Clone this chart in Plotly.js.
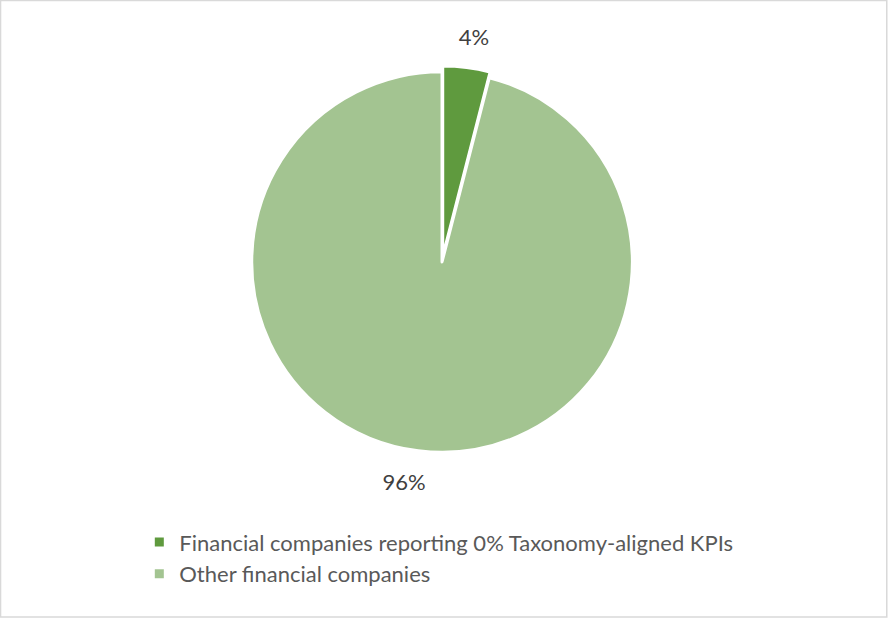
<!DOCTYPE html>
<html>
<head>
<meta charset="utf-8">
<script src="https://cdn.plot.ly/plotly-3.0.1.min.js"></script>
<style>
html,body{margin:0;padding:0;background:#fff;}
#chart{width:889px;height:621px;}
</style>
</head>
<body>
<div id="chart"></div>
<script>
const labels = ["Financial companies reporting 0% Taxonomy-aligned KPIs", "Other financial companies"];
const values = [4, 96];
const textLabels = ["4%", "96%"];
const colors = ["#5f9a3e", "#a3c491"];
const pulls = [0.03, 0];

const fontFamily = "Lato, 'Open Sans', sans-serif";

// main pie (slices + legend)
const pieTrace = {
  type: "pie",
  labels: labels,
  values: values,
  textinfo: "none",
  sort: false,
  direction: "clockwise",
  rotation: 0,
  pull: pulls,
  marker: {colors: colors, line: {color: "#ffffff", width: 3}},
  domain: {x: [0.2767, 0.7177], y: [0.2625, 0.8937]},
  automargin: false,
  hoverinfo: "label+percent"
};

// transparent, slightly larger pie carrying the outside data labels
const labelTrace = {
  type: "pie",
  labels: labels,
  values: values,
  text: textLabels,
  textinfo: "text",
  textposition: "outside",
  sort: false,
  direction: "clockwise",
  rotation: -4.5,
  pull: pulls,
  showlegend: false,
  marker: {colors: ["rgba(0,0,0,0)", "rgba(0,0,0,0)"], line: {width: 0}},
  outsidetextfont: {family: fontFamily, size: 22, color: "#404040"},
  domain: {x: [0.2587, 0.7357], y: [0.2367, 0.9195]},
  automargin: false,
  hoverinfo: "skip"
};

const layout = {
  width: 889,
  height: 621,
  margin: {l: 0, r: 0, t: 0, b: 0},
  paper_bgcolor: "#ffffff",
  showlegend: true,
  legend: {
    orientation: "v",
    x: 0.1567, xanchor: "left",
    y: 0.101, yanchor: "middle",
    font: {family: fontFamily, size: 22, color: "#595959"}
  },
  shapes: [{
    type: "rect", xref: "paper", yref: "paper",
    x0: 0.0006, x1: 0.9975, y0: 0.0065, y1: 0.999,
    line: {color: "#d9d9d9", width: 1.5}
  }]
};

Plotly.newPlot("chart", [labelTrace, pieTrace], layout, {displayModeBar: false, staticPlot: true});
</script>
</body>
</html>
